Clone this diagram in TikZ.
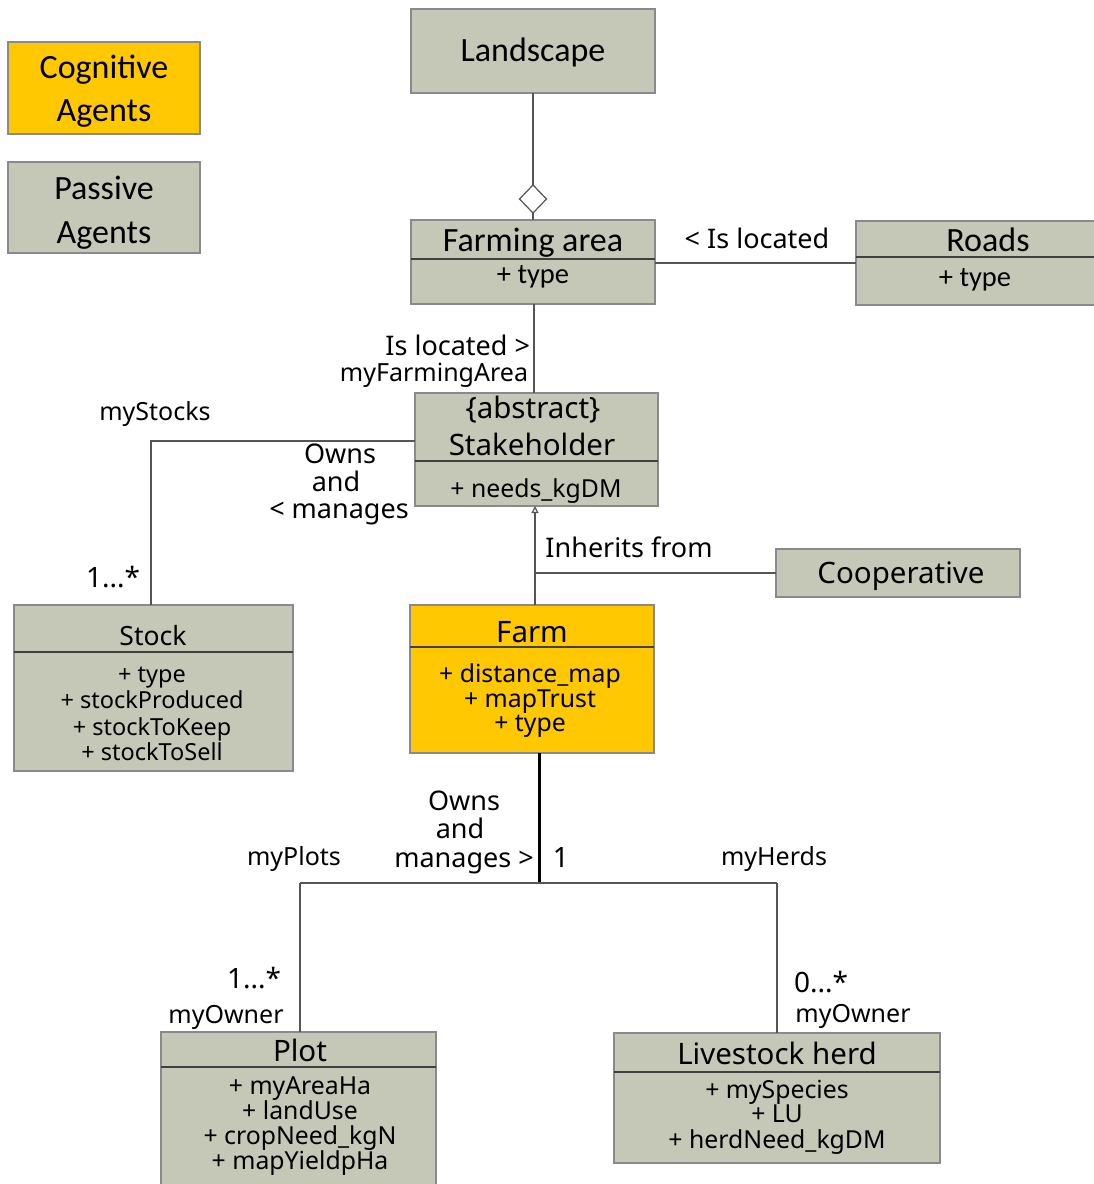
\documentclass[tikz,border=0pt]{standalone}
\usepackage{fontspec}
\setmainfont{Noto Sans}
\newfontfamily\calib{Carlito}
\usetikzlibrary{arrows.meta,shapes.geometric}
\definecolor{boxgray}{HTML}{C5C8B6}
\definecolor{boxyellow}{HTML}{FFC800}
\definecolor{edgegray}{HTML}{8A8A8A}
\definecolor{linegray}{HTML}{555555}
\begin{document}
\begin{tikzpicture}[x=1pt,y=-1pt,
  every node/.style={inner sep=0pt, outer sep=0pt},
  gbox/.style={draw=edgegray, line width=1.4pt, fill=boxgray, rectangle},
  ybox/.style={draw=edgegray, line width=1.4pt, fill=boxyellow, rectangle},
  sep/.style={draw=black!75, line width=1.4pt},
  ttl/.style={anchor=base, font=\fontsize{29.5}{33}\selectfont},
  ttls/.style={anchor=base, font=\fontsize{26.5}{30}\selectfont},
  ttlc/.style={anchor=base, font=\calib\fontsize{34}{38}\selectfont},
  attr/.style={anchor=base, font=\fontsize{24.8}{28}\selectfont},
  attrs/.style={anchor=base, font=\fontsize{23.5}{27}\selectfont},
  attrc/.style={anchor=base, font=\calib\fontsize{28.5}{32}\selectfont},
  lbl/.style={anchor=base, font=\fontsize{27}{30}\selectfont},
  role/.style={anchor=base, font=\fontsize{25}{28}\selectfont},
  mult/.style={anchor=base, font=\fontsize{28}{31}\selectfont},
  assoc/.style={draw=linegray, line width=1.2pt},
  thick assoc/.style={draw=black, line width=3pt}
]
\useasboundingbox (0,0) rectangle (1093,1184);

% ---------- legend ----------
\node[ybox, minimum width=192pt, minimum height=92pt] (cog) at (104,88) {};
\node[ttlc] at (104,78) {Cognitive};
\node[ttlc] at (104,121) {Agents};
\node[gbox, minimum width=192pt, minimum height=91pt] (pas) at (104,207.5) {};
\node[ttlc] at (104,199) {Passive};
\node[ttlc] at (104,243) {Agents};

% ---------- Landscape ----------
\node[gbox, minimum width=244pt, minimum height=84pt] (land) at (533,51) {};
\node[ttlc] at (533,61) {Landscape};

% ---------- Farming area ----------
\node[gbox, minimum width=244pt, minimum height=84pt] (farea) at (533,262) {};
\draw[sep] (farea.west |- 0,259) -- (farea.east |- 0,259);
\node[ttlc] at (533,251) {Farming area};
\node[attrc] at (533,283) {+ type};

% aggregation diamond
\node[diamond, draw=linegray, line width=1.2pt, fill=white, minimum width=27pt, minimum height=28pt] (agg) at (533,199) {};
\draw[assoc] (land.south) -- (agg.north);
\draw[assoc] (agg.south) -- (farea.north);

% ---------- Roads ----------
\node[gbox, minimum width=244pt, minimum height=84pt, anchor=north west] (roads) at (856,221) {};
\draw[sep] (roads.west |- 0,257) -- (roads.east |- 0,257);
\node[ttlc] at (988,251) {Roads};
\node[attrc] at (975,286) {+ type};
\draw[assoc] (farea.east |- 0,263) -- (roads.west |- 0,263);
\node[lbl] (lroad) at (757,248) {< Is located};

% ---------- Stakeholder ----------
\node[gbox, minimum width=243pt, minimum height=113pt] (stake) at (536.5,449.5) {};
\draw[sep] (stake.west |- 0,461) -- (stake.east |- 0,461);
\node[ttl] at (533,418) {\{abstract\}};
\node[ttl] at (532,455) {Stakeholder};
\node[attr] at (536,497) {+ needs\_kgDM};

\draw[assoc] (534,304) coordinate (fa1) -- (534,393) coordinate (st1);
\node[lbl, anchor=base east] at (530,355) {Is located >};
\node[role, anchor=base east] at (528,381) {myFarmingArea};

% ---------- Stock ----------
\node[gbox, minimum width=279pt, minimum height=166pt] (stock) at (153.5,688) {};
\draw[sep] (stock.west |- 0,652) -- (stock.east |- 0,652);
\node[ttls] at (153,645) {Stock};
\node[attrs] at (152,682) {+ type};
\node[attrs] at (152,708) {+ stockProduced};
\node[attrs] at (152,735) {+ stockToKeep};
\node[attrs] at (152,760) {+ stockToSell};

\coordinate (sk) at (151,441);
\draw[assoc] (stake.west |- sk) -- (sk) -- (stock.north -| sk);
\node[role] at (155,420) {myStocks};
\node[lbl] at (340,463) {Owns};
\node[lbl] at (336,491) {and};
\node[lbl] at (339,518) {< manages};
\node[mult] at (113,587) {1...*};

% ---------- Farm ----------
\node[ybox, minimum width=244pt, minimum height=148pt] (farm) at (532,679) {};
\draw[sep] (farm.west |- 0,647) -- (farm.east |- 0,647);
\node[ttl] at (532,642) {Farm};
\node[attr] at (530,682) {+ distance\_map};
\node[attr] at (530,707) {+ mapTrust};
\node[attr] at (530,731) {+ type};

% ---------- Cooperative ----------
\node[gbox, minimum width=244pt, minimum height=48pt] (coop) at (898,573) {};
\node[ttl] at (901,583) {Cooperative};

% inheritance
\coordinate (inh) at (535,573);
\draw[assoc, -{Triangle[open, length=7pt, width=7pt]}] (farm.north -| inh) -- (stake.south -| inh);
\draw[assoc] (inh) -- (coop.west);
\node[lbl] at (629,557) {Inherits from};

% ---------- Farm ownership ----------
\coordinate (fj) at (539,883);
\coordinate (pj) at (300,883);
\coordinate (hj) at (777,883);
\draw[thick assoc] (farm.south -| fj) -- (fj);
\draw[assoc] (pj) -- (hj);

\node[lbl] at (464,810) {Owns};
\node[lbl] at (460,838) {and};
\node[lbl] at (464,867) {manages >};
\node[mult] at (561,867) {1};
\node[role] at (294,865) {myPlots};
\node[role] at (774,865) {myHerds};
\node[mult] at (254,988) {1...*};
\node[role] at (226,1023) {myOwner};
\node[mult] at (821,992) {0...*};
\node[role] at (853,1022) {myOwner};

% ---------- Plot ----------
\node[gbox, minimum width=275pt, minimum height=170pt, anchor=north west] (plot) at (161,1032) {};
\draw[sep] (plot.west |- 0,1067) -- (plot.east |- 0,1067);
\node[ttl] at (300,1061) {Plot};
\node[attr] at (300,1094) {+ myAreaHa};
\node[attr] at (300,1119) {+ landUse};
\node[attr] at (300,1144) {+ cropNeed\_kgN};
\node[attr] at (300,1169) {+ mapYieldpHa};

% ---------- Livestock herd ----------
\node[gbox, minimum width=326pt, minimum height=130pt, anchor=north west] (herd) at (614,1033) {};
\draw[sep] (herd.west |- 0,1072) -- (herd.east |- 0,1072);
\node[ttl] at (777,1064) {Livestock herd};
\node[attr] at (777,1098) {+ mySpecies};
\node[attr] at (777,1122) {+ LU};
\node[attr] at (777,1148) {+ herdNeed\_kgDM};

\draw[assoc] (pj) -- (plot.north -| pj);
\draw[assoc] (hj) -- (herd.north -| hj);
\end{tikzpicture}
\end{document}
